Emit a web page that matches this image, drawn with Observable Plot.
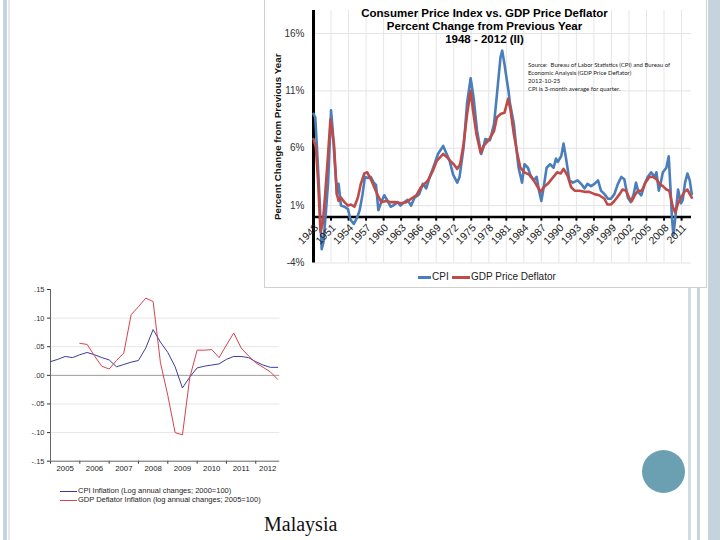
<!DOCTYPE html>
<html><head><meta charset="utf-8">
<script src="https://cdn.jsdelivr.net/npm/d3@7"></script>
<script src="https://cdn.jsdelivr.net/npm/@observablehq/plot@0.6"></script>
<style>
html,body{margin:0;padding:0}
body{width:720px;height:540px;overflow:hidden;background:#fff;position:relative;font-family:"Liberation Sans",Arial,sans-serif}
.abs{position:absolute}
.t{position:absolute;white-space:nowrap}
</style></head><body>
<div class="abs" style="left:3px;top:0;width:4px;height:540px;background:#c4d3dc"></div>
<div class="abs" style="left:8px;top:0;width:2px;height:540px;background:#e2e9ed"></div>
<div class="abs" style="left:708px;top:0;width:12px;height:540px;background:#c5d4dc"></div>
<div class="abs" style="left:688px;top:288px;width:3px;height:252px;background:#d2dde3"></div>
<div class="abs" style="left:697px;top:288px;width:3px;height:252px;background:#c6d4dc"></div>
<div class="abs" style="left:642px;top:450px;width:43px;height:43px;border-radius:50%;background:#6b9fb2"></div>
<div class="abs" style="left:264px;top:0;width:441px;height:287px;border:1px solid #d0d0d0;border-top:none;background:#fff"></div>
<div id="topchart" class="abs" style="left:264px;top:0;width:442px;height:288px"></div>
<div class="t" style="left:264px;width:441px;top:7px;text-align:center;font-weight:bold;font-size:11.5px;line-height:12.9px">Consumer Price Index vs. GDP Price Deflator<br>Percent Change from Previous Year<br>1948 - 2012 (II)</div>
<div class="t" style="left:528px;top:61px;font-family:Lato,'Open Sans',sans-serif;font-size:6px;line-height:8px;color:#222">Source:&nbsp; Bureau of Labor Statistics (CPI) and Bureau of<br>Economic Analysis (GDP Price Deflator)<br>2012-10-25<br>CPI is 3-month average for quarter.</div>
<div class="abs" style="left:418px;top:276px;width:13px;height:3px;background:#4a7ebb"></div>
<div class="t" style="left:432px;top:271px;font-size:10px;line-height:12px;color:#222">CPI</div>
<div class="abs" style="left:452px;top:276px;width:18px;height:3px;background:#be4b48"></div>
<div class="t" style="left:471px;top:271px;font-size:10px;line-height:12px;color:#222">GDP Price Deflator</div>
<div id="botchart" class="abs" style="left:20px;top:280px;width:270px;height:200px"></div>
<div class="abs" style="left:60px;top:491px;width:17px;height:1px;background:#3b3b9c"></div>
<div class="t" style="left:78px;top:486px;font-size:7.5px;line-height:10px;color:#222">CPI Inflation (Log annual changes; 2000=100)</div>
<div class="abs" style="left:60px;top:500px;width:17px;height:1px;background:#d6434f"></div>
<div class="t" style="left:78px;top:495px;font-size:7.5px;line-height:10px;color:#222">GDP Deflator Inflation (log annual changes; 2005=100)</div>
<div class="t" style="left:264px;top:514px;font-family:'Liberation Serif','DejaVu Serif',serif;font-size:20px;line-height:20px;color:#111">Malaysia</div>
<script>
// ---- Top chart data (US, % change from previous year) ----
const cpiYears = [1948.0,1948.3,1948.6,1949.0,1949.4,1949.7,1950.1,1950.5,1951.0,1951.3,1951.7,1952.0,1952.3,1952.7,1953.3,1953.9,1954.3,1954.9,1955.5,1955.9,1956.4,1956.8,1957.3,1957.8,1958.3,1958.7,1959.1,1959.6,1960.1,1960.7,1961.2,1961.6,1962.4,1962.9,1963.3,1964.1,1964.7,1965.3,1966.1,1966.7,1967.3,1967.9,1968.7,1969.3,1970.2,1970.7,1971.3,1971.9,1972.6,1973.0,1973.7,1974.3,1974.9,1975.4,1976.0,1976.7,1977.1,1977.4,1978.2,1978.9,1979.4,1980.0,1980.3,1980.7,1981.1,1981.4,1981.6,1982.3,1982.7,1983.1,1983.7,1984.1,1984.7,1985.1,1985.7,1986.2,1986.6,1987.0,1987.4,1987.9,1988.5,1989.1,1989.5,1989.8,1990.4,1990.8,1991.2,1991.8,1992.4,1993.2,1993.8,1994.4,1994.9,1995.5,1996.1,1996.7,1997.2,1997.8,1998.4,1998.9,1999.5,2000.1,2000.7,2001.2,2001.8,2002.3,2002.8,2003.2,2003.6,2004.1,2004.7,2005.2,2005.8,2006.4,2006.7,2007.1,2007.4,2007.8,2008.4,2008.8,2009.1,2009.35,2009.6,2010.0,2010.4,2010.9,2011.2,2011.6,2012.0,2012.4,2012.75];
const cpiValues = [9.0,8.7,6.0,2.0,-2.8,-2.2,0.3,3.0,9.3,7.5,4.3,2.0,2.9,1.0,0.9,0.7,-0.2,-0.6,0.0,0.6,2.0,3.5,3.4,3.5,3.0,2.8,0.6,1.3,1.9,1.4,0.9,1.0,1.3,1.0,1.2,1.5,1.0,1.7,2.0,2.9,2.5,3.5,4.6,5.5,6.2,5.6,4.9,3.7,3.0,3.5,6.1,10.0,12.1,10.4,7.5,5.5,6.1,6.8,6.7,8.1,10.7,13.9,14.5,13.3,11.9,10.9,10.0,8.1,6.1,4.3,3.0,4.6,4.3,3.7,3.2,3.5,2.3,1.4,2.6,4.3,4.6,4.3,5.1,4.8,5.3,6.4,5.2,3.2,3.0,3.2,2.9,2.5,2.9,2.7,2.9,3.2,2.3,2.0,1.6,1.6,2.0,2.9,3.5,3.3,1.7,1.3,2.0,3.0,2.2,1.9,2.9,3.5,3.9,3.5,3.9,2.3,2.9,3.9,4.3,5.3,2.5,0.0,-1.6,0.3,2.4,1.2,1.5,3.0,3.8,3.2,2.0];
const gdpYears = [1948.0,1948.4,1948.8,1949.2,1949.6,1950.0,1950.5,1950.9,1951.5,1952.0,1952.3,1952.7,1953.3,1953.9,1954.4,1955.0,1955.6,1956.1,1956.7,1957.2,1957.9,1958.4,1959.0,1959.6,1960.4,1961.3,1962.1,1963.0,1963.9,1964.7,1965.6,1966.4,1967.0,1967.6,1968.4,1969.1,1970.2,1970.9,1971.4,1972.0,1972.6,1973.1,1973.7,1974.3,1974.9,1975.3,1975.9,1976.6,1977.1,1978.0,1978.9,1979.4,1980.1,1980.7,1981.3,1981.7,1982.3,1982.9,1983.4,1984.1,1984.9,1985.7,1986.4,1986.9,1987.4,1988.1,1988.9,1989.7,1990.3,1990.8,1991.5,1992.1,1992.7,1993.5,1994.4,1995.2,1996.1,1996.9,1997.8,1998.3,1998.9,1999.5,2000.4,2000.9,2001.5,2002.1,2002.5,2003.1,2003.6,2004.2,2004.8,2005.5,2006.1,2006.7,2007.2,2007.8,2008.4,2008.9,2009.5,2009.9,2010.4,2010.9,2011.5,2012.0,2012.4,2012.75];
const gdpValues = [6.8,6.1,3.0,-1.3,-0.5,2.0,5.5,8.5,6.4,2.0,1.4,1.7,1.3,1.0,1.1,0.9,1.7,2.9,3.8,3.9,3.2,2.6,1.9,1.3,1.4,1.3,1.3,1.2,1.3,1.6,1.9,2.6,2.9,3.2,4.0,4.9,5.5,5.2,4.9,4.6,4.2,4.6,6.4,9.0,11.0,9.3,7.2,5.6,6.2,6.7,7.5,8.7,9.0,9.1,10.3,9.4,7.2,5.5,4.3,3.9,3.7,3.2,2.6,2.2,2.6,2.9,3.4,3.9,3.8,4.2,3.6,2.6,2.3,2.3,2.2,2.2,2.0,1.9,1.6,1.1,1.1,1.4,2.0,2.4,2.3,1.6,1.4,2.0,2.3,2.3,3.0,3.5,3.5,3.3,2.9,2.7,2.4,2.3,0.9,0.4,1.2,1.7,2.2,2.4,2.0,1.7];
const topTickYears = [1948,1951,1954,1957,1960,1963,1966,1969,1972,1975,1978,1981,1984,1987,1990,1993,1996,1999,2002,2005,2008,2011];
const topYTicks = [-4,1,6,11,16];
const topYTitle = "Percent Change from Previous Year";

// ---- Bottom chart data (Malaysia, quarterly log annual changes) ----
const myQuarters = [2005.00,2005.25,2005.50,2005.75,2006.00,2006.25,2006.50,2006.75,2007.00,2007.25,2007.50,2007.75,2008.00,2008.25,2008.50,2008.75,2009.00,2009.25,2009.50,2009.75,2010.00,2010.25,2010.50,2010.75,2011.00,2011.25,2011.50,2011.75,2012.00,2012.25,2012.50,2012.75];
const myCpi = [0.024,0.028,0.033,0.031,0.036,0.040,0.036,0.031,0.027,0.015,0.019,0.023,0.026,0.048,0.080,0.058,0.040,0.015,-0.022,-0.003,0.013,0.016,0.018,0.020,0.028,0.033,0.033,0.031,0.024,0.018,0.014,0.014];
const myGdp = [null,null,null,null,0.056,0.054,0.034,0.016,0.011,0.026,0.039,0.106,0.120,0.135,0.129,0.022,-0.035,-0.100,-0.104,-0.004,0.044,0.044,0.045,0.031,0.053,0.074,0.048,0.034,0.022,0.014,0.006,-0.007];
const myYearLabels = [2005,2006,2007,2008,2009,2010,2011,2012];
const myYTicks = [-0.15,-0.10,-0.05,0,0.05,0.10,0.15];

// ---- Top chart ----
const cpiData = cpiYears.map((x, i) => ({x, y: cpiValues[i]}));
const gdpData = gdpYears.map((x, i) => ({x, y: gdpValues[i]}));
const topXDomain = [1948, 2012.7];
const topYDomain = [-4, 18];

const topPlot = Plot.plot({
  width: 442, height: 288,
  marginLeft: 49, marginRight: 15, marginTop: 10, marginBottom: 25.5,
  style: {background: "transparent", fontFamily: '"Liberation Sans", Arial, sans-serif', fontSize: "10px", color: "#333", overflow: "visible"},
  x: {domain: topXDomain, axis: null},
  y: {domain: topYDomain, ticks: topYTicks, tickFormat: d => d + "%", tickSize: 0, tickPadding: 9, label: null},
  marks: [
    Plot.ruleY(topYTicks, {stroke: "#e3e3e3", strokeWidth: 1}),
    Plot.ruleX(topTickYears, {stroke: "#e6e6e6", strokeWidth: 1}),
    Plot.ruleY([0], {stroke: "#000", strokeWidth: 2.5}),
    Plot.ruleX(topTickYears, {y1: 0, y2: -0.35, stroke: "#000", strokeWidth: 2}),
    Plot.ruleX([topXDomain[0]], {stroke: "#000", strokeWidth: 3}),
    Plot.line(cpiData, {x: "x", y: "y", stroke: "#4a7ebb", strokeWidth: 2.6, strokeLinejoin: "round"}),
    Plot.line(gdpData, {x: "x", y: "y", stroke: "#be4b48", strokeWidth: 2.6, strokeLinejoin: "round"}),
    Plot.text(topTickYears, {x: d => d, y: 0, text: d => String(d), rotate: -45, textAnchor: "end", dx: 3, dy: 9, fontSize: 10.5, fill: "#222"}),
    Plot.text([topYTitle], {text: d => d, frameAnchor: "left", textAnchor: "middle", rotate: -90, dx: -36, dy: 0, fontWeight: "bold", fontSize: 9.8, fill: "#111"})
  ]
});
document.getElementById("topchart").appendChild(topPlot);

// ---- Bottom chart ----
const myCpiData = myQuarters.map((x, i) => ({x, y: myCpi[i]}));
const myGdpData = myQuarters.map((x, i) => ({x, y: myGdp[i]}));
const botXDomain = [2005, 2012.82];
const botYDomain = [-0.15, 0.15];
const fmt = d => (d < 0 ? "-" : "") + "." + String(Math.round(Math.abs(d) * 100)).padStart(2, "0");

const botPlot = Plot.plot({
  width: 270, height: 200,
  marginLeft: 30, marginRight: 10.7, marginTop: 9, marginBottom: 19.3,
  style: {background: "transparent", fontFamily: '"Liberation Sans", Arial, sans-serif', fontSize: "7.5px", color: "#333", overflow: "visible"},
  x: {domain: botXDomain, ticks: myYearLabels, tickFormat: () => "", tickSize: 3, label: null},
  y: {domain: botYDomain, ticks: myYTicks, tickFormat: fmt, tickSize: 3, tickPadding: 3, label: null},
  marks: [
    Plot.ruleY(myYTicks.filter(d => d !== 0 && Math.abs(d) < 0.15), {stroke: "#e6e6e6"}),
    Plot.ruleY([0], {stroke: "#9a9a9a"}),
    Plot.ruleY([botYDomain[0]], {stroke: "#666"}),
    Plot.ruleX([botXDomain[0]], {stroke: "#666"}),
    Plot.line(myCpiData, {x: "x", y: "y", stroke: "#3b3b9c", strokeWidth: 1}),
    Plot.line(myGdpData, {x: "x", y: "y", stroke: "#d6434f", strokeWidth: 1}),
    Plot.text(myYearLabels, {x: d => Math.min(d + 0.5, (d + botXDomain[1]) / 2), text: d => String(d), frameAnchor: "bottom", dy: 9.5, fontSize: 7.8, fill: "#222"})
  ]
});
document.getElementById("botchart").appendChild(botPlot);
</script>
</body></html>
